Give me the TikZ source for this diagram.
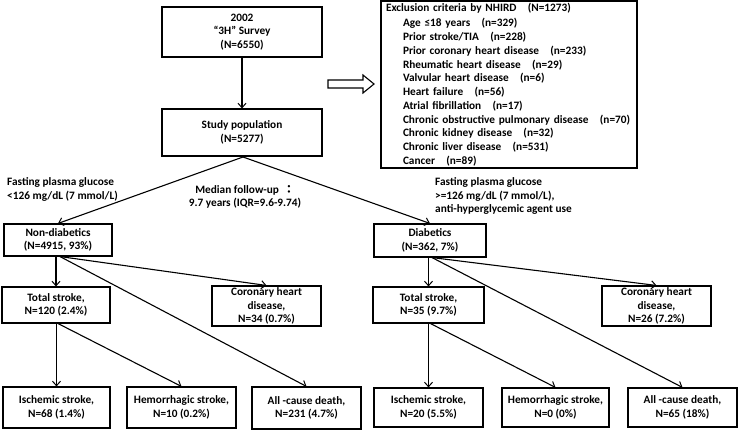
\documentclass[tikz,border=0pt]{standalone}
\usepackage{fontspec}
\setmainfont{Carlito}
\newfontfamily\cjkfont{Noto Sans CJK TC}
\usetikzlibrary{arrows.meta,calc}
\newcommand{\gapsp}{\hspace{1em}}
\newcommand{\ind}{\hspace*{17pt}}
\begin{document}
\begin{tikzpicture}[x=1pt,y=-1pt,
  font=\fontsize{11.3}{13.75}\selectfont\bfseries,
  box/.style={draw,line width=1.1pt,align=center,inner sep=0pt,rectangle},
  lbl/.style={align=left,inner sep=0pt},
  conn/.style={line width=1.1pt,-{Straight Barb[length=4.5pt,width=8pt,line width=1pt]}}]
\useasboundingbox (0,0) rectangle (740,431);

% top part
\node[box,minimum width=160pt,minimum height=50pt] (survey) at (242,32) {2002\\“3H” Survey\\(N=6550)};
\node[box,minimum width=160pt,minimum height=47pt] (study) at (242,132.5) {Study population\\(N=5277)};
\node[box,minimum width=256pt,minimum height=167pt,text width=246pt,inner xsep=5pt,align=left] (excl) at (509,84.5)
 {\vspace*{2pt}Exclusion criteria by NHIRD\gapsp(N=1273)\\
  \ind Age ≤18 years\gapsp(n=329)\\
  \ind Prior stroke/TIA\gapsp(n=228)\\
  \ind Prior coronary heart disease\gapsp(n=233)\\
  \ind Rheumatic heart disease\gapsp(n=29)\\
  \ind Valvular heart disease\gapsp(n=6)\\
  \ind Heart failure\gapsp(n=56)\\
  \ind Atrial fibrillation\gapsp(n=17)\\
  \ind Chronic obstructive pulmonary disease\gapsp(n=70)\\
  \ind Chronic kidney disease\gapsp(n=32)\\
  \ind Chronic liver disease\gapsp(n=531)\\
  \ind Cancer\gapsp(n=89)};

% hollow arrow
\draw[line width=1.1pt,line join=miter] (328,80) -- (363,80) -- (363,75) -- (374,84) -- (363,93) -- (363,88) -- (328,88) -- cycle;

\draw[conn] (survey) -- (study);

% split
\coordinate (apex) at (243,157);
\node[box,minimum width=108pt,minimum height=32pt] (nd) at (58,240) {Non-diabetics\\(N=4915, 93\%)};
\node[box,minimum width=112pt,minimum height=33pt] (diab) at (430,240.5) {Diabetics\\(N=362, 7\%)};
\draw[conn] (apex) -- (nd.north);
\draw[conn] (apex) -- (diab.north);

\node[lbl,anchor=west] (fpgL) at (7,189.5) {Fasting plasma glucose\\<126 mg/dL (7 mmol/L)};
\node[align=center,inner sep=0pt] (median) at (245,197) {Median follow-up\hspace{0.4em}{\cjkfont ：}\\9.7 years (IQR=9.6-9.74)};
\node[lbl,anchor=west] (fpgR) at (435,196) {Fasting plasma glucose\\>=126 mg/dL (7 mmol/L),\\anti-hyperglycemic agent use};

% left branch
\node[box,minimum width=108pt,minimum height=36pt] (tsL) at (56,305) {Total stroke,\\N=120 (2.4\%)};
\node[box,minimum width=109pt,minimum height=40pt] (chdL) at (266.5,306) {Coronary heart\\disease,\\N=34 (0.7\%)};
\node[box,minimum width=107pt,minimum height=41pt] (isL) at (56.5,407.5) {Ischemic stroke,\\N=68 (1.4\%)};
\node[box,minimum width=109pt,minimum height=41pt] (hemL) at (181.5,407.5) {Hemorrhagic stroke,\\N=10 (0.2\%)};
\node[box,minimum width=109pt,minimum height=42pt] (acdL) at (306.5,408) {All -cause death,\\N=231 (4.7\%)};

\draw[conn] (tsL.north |- nd.south) -- (tsL.north);
\draw[conn] ($(nd.south)+(2,0)$) -- (chdL.north);
\draw[conn] ($(nd.south)+(2,0)$) -- (acdL.north);
\draw[conn] (isL.north |- tsL.south) -- (isL.north);
\draw[conn] ($(tsL.south)+(2,0)$) -- (hemL.north);

% right branch
\node[box,minimum width=111pt,minimum height=36pt] (tsR) at (428.5,305) {Total stroke,\\N=35 (9.7\%)};
\node[box,minimum width=109pt,minimum height=40pt] (chdR) at (656.5,306) {Coronary heart\\disease,\\N=26 (7.2\%)};
\node[box,minimum width=109pt,minimum height=39pt] (isR) at (428.5,407.5) {Ischemic stroke,\\N=20 (5.5\%)};
\node[box,minimum width=107pt,minimum height=39pt] (hemR) at (555.5,407.5) {Hemorrhagic stroke,\\N=0 (0\%)};
\node[box,minimum width=109pt,minimum height=39pt] (acdR) at (682.5,407.5) {All -cause death,\\N=65 (18\%)};

\draw[conn] (tsR.north |- diab.south) -- (tsR.north);
\draw[conn] ($(diab.south)+(2,0)$) -- (chdR.north);
\draw[conn] ($(diab.south)+(2,0)$) -- (acdR.north);
\draw[conn] (isR.north |- tsR.south) -- (isR.north);
\draw[conn] ($(tsR.south)+(2,0)$) -- (hemR.north);
\end{tikzpicture}
\end{document}
